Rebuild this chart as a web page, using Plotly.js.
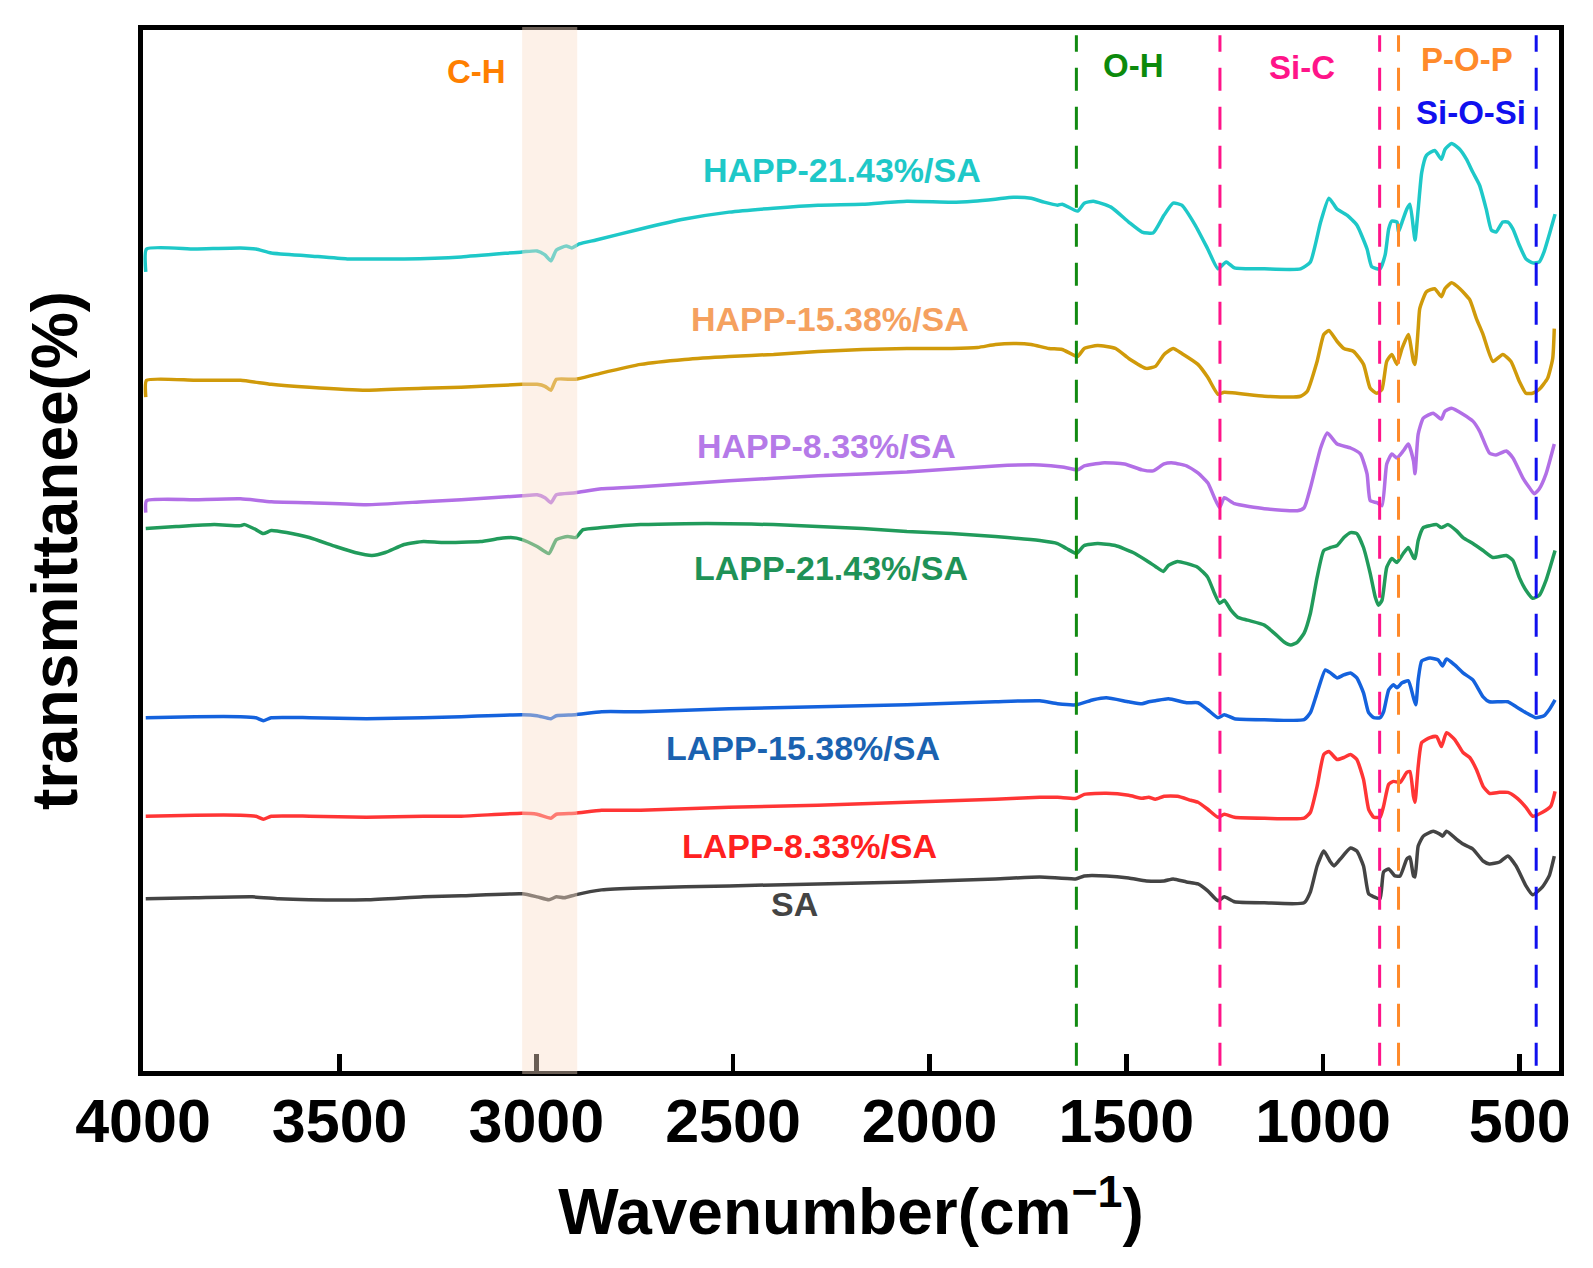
<!DOCTYPE html>
<html>
<head>
<meta charset="utf-8">
<script src="https://cdn.plot.ly/plotly-3.0.1.min.js"></script>
<style>
  body { margin: 0; background: #fff; }
  #ftir { width: 1593px; height: 1268px; }
</style>
</head>
<body>
<div id="ftir"></div>
<script>
// FTIR spectra (wavenumber in cm-1, transmittance in arbitrary offset units)

var wnHAPP21 = [3993,3991,3868,3752,3713,3674,3577,3481,3432,3336,3191,3036,2998,2978,2963,2949,2924,2910,2891,2848,
  2735,2623,2510,2397,2284,2171,2058,1945,1889,1833,1787,1742,1709,1675,1663,1624,1607,1584,1539,1494,1460,1432,1404,1381,
  1359,1325,1293,1267,1246,1225,1149,1057,1032,1006,985,964,939,914,888,876,855,842,833,825,812,808,799,787,779,770,766,
  758,749,737,716,699,690,673,652,635,619,602,585,572,560,543,530,517,501,484,467,450,438,425,410];
var tHAPP21 = [80.3,82.6,82.6,82.7,82.6,82.2,81.9,81.6,81.6,81.6,81.8,82.3,82.4,82.0,81.4,82.5,82.9,82.7,83.1,83.5,
  84.6,85.6,86.3,86.7,87.0,87.1,87.4,87.3,87.4,87.6,87.8,87.7,87.3,87.0,87.1,86.4,87.2,87.4,86.8,85.3,84.3,84.2,86.0,87.2,
  87.0,85.0,82.6,80.6,81.3,80.7,80.6,80.6,81.3,85.3,87.7,86.6,86.0,85.0,82.6,80.8,80.6,82.0,84.6,85.4,85.3,84.3,85.3,86.6,87.1,84.6,83.5,
  86.6,90.3,92.0,92.5,91.6,92.6,93.2,92.6,91.6,90.3,89.0,86.6,84.5,84.3,85.3,85.3,84.6,83.0,81.6,81.2,81.3,82.3,84.0,86.1];

var wnHAPP15 = [3993,3991,3868,3752,3674,3577,3432,3287,3191,3036,2998,2978,2963,2949,2901,2848,2735,2623,2510,2397,
  2284,2171,2058,1945,1878,1833,1787,1742,1697,1663,1624,1607,1573,1528,1494,1449,1426,1404,1381,1359,1318,1293,1267,1251,
  1149,1057,1040,1015,998,985,964,947,922,897,880,863,850,838,825,812,799,783,770,766,758,754,737,716,699,690,673,652,627,
  610,593,568,543,522,501,484,467,450,429,416,412];
var tHAPP15 = [67.7,69.4,69.4,69.4,69.0,68.7,68.4,68.6,68.7,69.0,69.0,68.8,68.4,69.5,69.5,70.0,71.0,71.5,71.8,72.0,
  72.3,72.5,72.6,72.6,72.7,73.0,73.1,73.0,72.6,72.5,71.8,72.6,72.9,72.6,71.6,70.6,70.8,72.0,72.6,72.1,71.0,69.7,68.0,68.2,
  67.8,67.8,68.3,71.3,74.0,74.4,73.3,72.6,72.3,71.0,68.6,68.1,68.5,71.3,72.0,71.0,72.6,74.0,71.3,71.0,74.6,76.6,78.3,78.6,77.8,78.6,79.2,78.6,77.5,
  75.6,74.0,71.3,72.0,71.3,69.3,68.1,68.1,68.5,69.6,71.6,74.6];

var wnHAPP8 = [3993,3991,3868,3752,3674,3577,3432,3287,3191,3036,2998,2978,2963,2949,2901,2834,2735,2510,2284,2058,
  1833,1720,1663,1624,1607,1562,1505,1460,1432,1404,1381,1347,1318,1293,1276,1263,1251,1225,1149,1065,1048,1032,1006,989,
  964,930,905,888,880,863,850,838,825,812,796,783,770,766,758,745,720,699,690,673,644,619,602,577,560,534,517,492,475,463,
  450,433,412];
var tHAPP8 = [56.1,57.3,57.4,57.5,57.2,57.1,56.9,57.2,57.4,57.8,57.9,57.6,57.1,57.9,58.1,58.5,58.7,59.3,59.8,60.2,
  60.8,60.9,60.7,60.4,60.8,61.1,61.0,60.4,60.3,61.0,61.1,60.8,60.1,59.1,57.6,56.6,57.6,57.0,56.5,56.3,56.6,58.6,62.6,64.1,
  63.0,62.6,62.0,60.0,57.3,57.1,56.8,61.0,62.0,61.6,62.3,63.0,61.3,60.0,64.0,65.6,66.1,65.5,66.3,66.6,66.0,65.3,64.3,62.1,61.9,62.3,61.6,59.6,58.6,58.0,
  58.5,60.0,63.0];

var wnLAPP21 = [3993,3916,3819,3752,3742,3713,3694,3674,3635,3577,3510,3461,3418,3384,3336,3287,3239,3142,3094,3065,
  3036,2998,2968,2949,2920,2900,2881,2834,2735,2623,2510,2397,2284,2171,2058,1945,1833,1720,1675,1652,1627,1607,1573,1528,
  1483,1449,1426,1406,1393,1370,1347,1318,1293,1276,1263,1251,1234,1217,1192,1149,1124,1099,1082,1065,1048,1032,1015,998,
  981,964,947,930,914,897,880,867,859,850,838,825,812,796,783,770,766,758,745,728,711,699,682,661,644,619,593,568,534,517,
  501,484,467,450,433,410];
var tLAPP21 = [54.5,54.7,54.9,54.8,54.9,54.4,54.0,54.3,54.1,53.6,52.7,52.1,51.8,52.1,52.9,53.2,53.1,53.2,53.5,53.6,
  53.4,52.7,52.0,53.4,53.7,53.6,54.4,54.6,54.9,55.0,55.0,54.9,54.7,54.5,54.2,54.0,53.7,53.3,53.0,52.5,52.0,52.8,53.0,52.8,
  52.1,51.3,50.7,50.2,50.8,51.2,51.0,50.6,49.6,48.0,47.0,47.3,46.3,45.6,45.3,44.8,44.0,43.1,42.8,43.1,44.0,46.0,49.6,52.3,
  52.6,52.8,53.6,54.1,54.0,52.6,50.0,47.6,46.8,47.3,50.6,51.5,51.1,52.0,52.6,51.6,51.5,53.3,54.6,54.8,54.9,54.6,54.9,54.3,53.6,53.0,52.3,51.6,51.8,51.3,
  49.6,48.3,47.5,47.8,49.3,52.3];

var wnLAPP15 = [3993,3868,3752,3713,3694,3674,3577,3432,3287,3191,3036,2998,2963,2949,2901,2834,2735,2510,2284,2058,
  1833,1720,1675,1627,1584,1551,1494,1460,1443,1426,1393,1347,1318,1293,1267,1251,1225,1149,1048,1032,1015,994,981,964,947,
  930,914,897,884,871,855,846,833,821,812,799,783,770,764,758,749,728,707,696,686,665,644,619,593,577,551,530,509,484,459,
  438,425,410];
var tLAPP15 = [35.5,35.6,35.6,35.5,35.2,35.5,35.5,35.4,35.5,35.6,35.8,35.7,35.4,35.7,35.8,36.1,36.1,36.4,36.6,36.8,
  37.1,37.2,36.9,36.8,37.3,37.5,37.1,36.9,37.1,37.2,37.4,37.0,37.0,36.3,35.5,35.8,35.4,35.3,35.3,36.0,38.0,40.3,40.0,39.5,39.8,
  40.0,39.5,38.0,36.0,35.5,35.5,36.1,38.3,38.8,38.5,39.0,39.2,37.5,36.8,39.3,41.2,41.5,41.3,40.7,41.4,40.8,40.0,39.3,37.6,37.1,37.1,37.1,36.6,36.0,35.5,
  35.7,36.3,37.3];

var wnLAPP8 = [3993,3868,3752,3713,3694,3674,3577,3432,3287,3191,3036,2998,2963,2949,2901,2834,2735,2510,2284,2058,
  1833,1720,1675,1627,1607,1551,1494,1460,1443,1426,1404,1370,1336,1318,1293,1267,1251,1225,1149,1048,1032,1015,998,985,
  964,947,930,914,897,884,871,855,846,833,821,804,787,779,770,766,758,749,728,711,699,686,665,644,627,610,593,577,551,530,
  509,484,467,442,421,410];
var tLAPP8 = [25.6,25.7,25.7,25.6,25.3,25.6,25.6,25.5,25.6,25.6,25.9,25.8,25.4,25.8,25.9,26.2,26.2,26.5,26.7,27.0,
  27.3,27.5,27.5,27.4,27.8,27.9,27.7,27.4,27.5,27.3,27.6,27.6,27.2,27.0,26.3,25.5,25.8,25.5,25.4,25.4,26.0,28.6,31.8,32.1,
  31.3,31.5,31.8,31.3,29.3,26.3,25.5,25.5,26.6,28.8,29.1,29.0,30.0,30.1,27.6,27.0,30.6,33.0,33.5,33.6,32.6,34.0,33.3,32.0,31.5,30.3,28.6,27.9,28.0,28.0,
  27.5,26.5,25.6,26.0,26.6,28.1];

var wnSA = [3993,3868,3722,3655,3577,3432,3287,3191,3036,2998,2968,2949,2929,2901,2834,2735,2510,2284,2058,1833,
  1720,1629,1607,1551,1494,1449,1404,1381,1347,1318,1293,1267,1251,1225,1149,1048,1032,1015,998,981,972,956,930,914,897,
  884,871,855,846,833,817,804,787,779,770,766,758,745,720,703,696,686,661,644,619,593,577,551,530,509,484,467,442,425,412];
var tSA = [17.3,17.4,17.5,17.3,17.2,17.2,17.5,17.6,17.8,17.5,17.2,17.5,17.4,17.7,18.2,18.4,18.6,18.8,19.0,19.3,
  19.5,19.3,19.6,19.6,19.4,19.1,19.1,19.3,19.0,18.8,18.1,17.1,17.5,17.0,16.9,16.9,18.0,20.6,22.1,21.0,20.6,21.3,22.4,22.1,20.6,
  17.8,17.5,17.3,20.0,20.3,19.6,19.6,21.3,21.5,19.6,19.5,22.6,23.6,24.1,23.8,23.6,24.1,23.3,22.8,22.3,21.1,20.8,21.0,21.6,20.6,18.6,17.7,18.5,19.6,21.6];

var seriesNames = ['HAPP-21.43%/SA','HAPP-15.38%/SA','HAPP-8.33%/SA','LAPP-21.43%/SA','LAPP-15.38%/SA','LAPP-8.33%/SA','SA'];
var lineColors = ['#1ec8c8','#d09a0a','#b26fe6','#219b5b','#1462dd','#ff3535','#444444'];
var labelColors = ['#1ec8c8','#f5a15f','#b57ae8','#1e9257','#1a62b0','#ff2020','#444444'];
var labelWn = [2223,2254,2262,2252,2322,2305,2344];
var labelT = [90.55,75.55,62.8,50.5,32.5,22.6,16.8];

var bandNames = ['C-H','O-H','Si-C','P-O-P','Si-O-Si'];
var bandColors = ['#ff7f00','#0c8a0c','#ff1489','#ff8a2a','#1010ee'];
var bandWn = [3151,1482,1053,633,623];
var bandT = [100.4,101.0,100.8,101.6,96.3];

var markerWn = [1627,1262,856,808,458];
var markerColors = ['#118a11','#ff1489','#ff1489','#ff8a2a','#1010ee'];
var chBand = [3036,2896];

var xs = [wnHAPP21,wnHAPP15,wnHAPP8,wnLAPP21,wnLAPP15,wnLAPP8,wnSA];
var ys = [tHAPP21,tHAPP15,tHAPP8,tLAPP21,tLAPP15,tLAPP8,tSA];

var fam = 'Liberation Sans, Arial, Helvetica, sans-serif';

var datos = [];
xs.forEach(function(x, i){
  datos.push({
    x: x,
    y: ys[i],
    type: 'scatter',
    mode: 'lines',
    name: seriesNames[i],
    line: {color: lineColors[i], width: 3.5, shape: 'spline', smoothing: 0.5}
  });
});

var anotaciones = [];
seriesNames.forEach(function(n, i){
  anotaciones.push({
    x: labelWn[i], y: labelT[i], xref: 'x', yref: 'y',
    text: n, showarrow: false, xanchor: 'center', yanchor: 'middle',
    font: {family: fam, size: 34, weight: 'bold', color: labelColors[i]}
  });
});
bandNames.forEach(function(n, i){
  anotaciones.push({
    x: bandWn[i], y: bandT[i], xref: 'x', yref: 'y',
    text: n, showarrow: false, xanchor: 'center', yanchor: 'middle',
    font: {family: fam, size: 33, weight: 'bold', color: bandColors[i]}
  });
});

var formas = [];
markerWn.forEach(function(w, i){
  formas.push({
    type: 'line', xref: 'x', yref: 'paper', x0: w, x1: w, y0: 0.005, y1: 0.995,
    line: {color: markerColors[i], width: 3, dash: '23px,16px'}
  });
});
formas.push({
  type: 'rect', xref: 'x', yref: 'paper', x0: chBand[0], x1: chBand[1], y0: -0.003, y1: 1.003,
  fillcolor: 'rgb(250,222,200)', opacity: 0.42, line: {width: 0}, layer: 'above'
});

var layout1 = {
  width: 1593,
  height: 1268,
  showlegend: false,
  paper_bgcolor: '#ffffff',
  plot_bgcolor: '#ffffff',
  margin: {l: 143, r: 34, t: 30, b: 197, pad: 0},
  xaxis: {
    range: [4000, 400],
    tickvals: [4000,3500,3000,2500,2000,1500,1000,500],
    ticks: 'inside', ticklen: 17, tickwidth: 4.5, tickcolor: '#000',
    showline: true, linewidth: 5, linecolor: '#000', mirror: true,
    showgrid: false, zeroline: false,
    ticklabelstandoff: -7,
    tickfont: {family: fam, size: 61, weight: 'bold', color: '#000'},
    title: {text: 'Wavenumber(cm<sup>\u22121</sup>)', font: {family: fam, size: 64, weight: 'bold', color: '#000'}, standoff: 36}
  },
  yaxis: {
    range: [0, 104.6],
    showticklabels: false, ticks: '',
    showline: true, linewidth: 5, linecolor: '#000', mirror: true,
    showgrid: false, zeroline: false,
    title: {text: 'transmittanee(%)', font: {family: fam, size: 64, weight: 'bold', color: '#000'}, standoff: 41}
  },
  annotations: anotaciones,
  shapes: formas
};

Plotly.newPlot('ftir', datos, layout1, {staticPlot: true});
</script>
</body>
</html>
